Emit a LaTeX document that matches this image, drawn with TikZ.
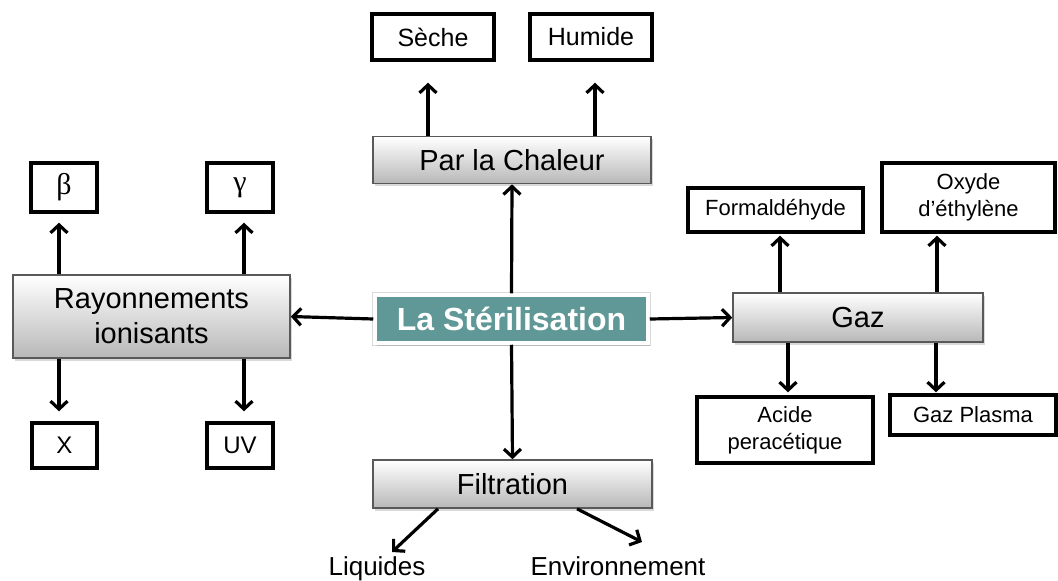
\documentclass[tikz,border=0pt]{standalone}
\usepackage{fontspec}
\setmainfont{Liberation Sans}
\newfontfamily\grk{Liberation Serif}
\usetikzlibrary{arrows.meta,shadows,calc}
\definecolor{tealbox}{RGB}{95,152,150}
\begin{document}
\begin{tikzpicture}[x=1pt,y=-1pt,
 main/.style={draw=black!65, line width=1.6pt, top color=white, bottom color=black!28,
   drop shadow={shadow xshift=1.5pt, shadow yshift=-2.5pt, opacity=0.3},
   inner sep=0pt, align=center, font=\fontsize{29}{35}\selectfont, text=black},
 leaf/.style={draw=black, line width=3.4pt, fill=white, inner sep=0pt, align=center,
   font=\fontsize{22}{27}\selectfont, text=black},
 arr/.style={line width=3.2pt, -{Straight Barb[length=8pt,width=17pt]}, black},
 plain/.style={inner sep=0pt, font=\fontsize{26}{30}\selectfont, text=black},
]
\useasboundingbox (0,0) rectangle (1058,581);

% central node
\node[draw=white, line width=3.5pt, fill=tealbox, text=white, inner sep=0pt,
  font=\bfseries\fontsize{32}{38}\selectfont, minimum width=273pt, minimum height=48pt,
  preaction={draw=black!15, fill=black!15, line width=6pt},
  drop shadow={shadow xshift=1.5pt, shadow yshift=-2.5pt, opacity=0.35}] (ster) at (511.5,319) {La Stérilisation};

% main boxes
\node[main, minimum width=278pt, minimum height=47pt] (chal) at (512,160) {Par la Chaleur};
\node[main, minimum width=277pt, minimum height=83pt] (ray) at (151.5,316.5) {Rayonnements\\ionisants};
\node[main, minimum width=250pt, minimum height=49pt] (gaz) at (858,317.5) {Gaz};
\node[main, minimum width=279pt, minimum height=48pt] (filt) at (512.5,484) {Filtration};

% leaves
\node[leaf, minimum width=122pt, minimum height=46pt, font=\fontsize{25}{30}\selectfont] (seche) at (433,37) {Sèche};
\node[leaf, minimum width=122pt, minimum height=46pt, font=\fontsize{25}{30}\selectfont] (hum) at (591,37) {Humide};
\node[leaf, minimum width=66pt, minimum height=49pt, font=\grk\fontsize{30}{30}\selectfont] (beta) at (64,187.5) {β};
\node[leaf, minimum width=66pt, minimum height=49pt, font=\grk\fontsize{30}{30}\selectfont] (gam) at (240,187.5) {γ};
\node[leaf, minimum width=65pt, minimum height=45pt, font=\fontsize{24}{28}\selectfont] (xr) at (64.5,445.5) {X};
\node[leaf, minimum width=66pt, minimum height=45pt, font=\fontsize{24}{28}\selectfont] (uv) at (240,445.5) {UV};
\node[leaf, minimum width=175pt, minimum height=44pt] (form) at (775.5,210) {Formaldéhyde};
\node[leaf, minimum width=173pt, minimum height=69pt] (oxy) at (968.5,197.5) {Oxyde\\d’éthylène};
\node[leaf, minimum width=176pt, minimum height=66pt] (acid) at (785,430) {Acide\\peracétique};
\node[leaf, minimum width=166pt, minimum height=40pt] (plas) at (973,415) {Gaz Plasma};
\node[plain, anchor=base] (liq) at (377,575) {Liquides};
\node[plain, anchor=base] (env) at (618,575) {Environnement};

% centre connectors
\draw[arr] (ster.north) -- (chal.south);
\draw[arr] (ster.south) -- (filt.north);
\draw[arr] (ster.west) -- (ray.east);
\draw[arr] (ster.east) -- (gaz.west);

% chaleur
\coordinate (c1) at ([xshift=-84pt]chal.north);
\coordinate (c2) at ([xshift=83pt]chal.north);
\draw[arr, shorten >=21pt] (c1) -- (c1 |- seche.south);
\draw[arr, shorten >=21pt] (c2) -- (c2 |- hum.south);

% rayonnements
\coordinate (r1) at ([xshift=-92.5pt]ray.north);
\coordinate (r2) at ([xshift=92.5pt]ray.north);
\coordinate (r3) at ([xshift=-92.5pt]ray.south);
\coordinate (r4) at ([xshift=92.5pt]ray.south);
\draw[arr, shorten >=9pt] (r1) -- (r1 |- beta.south);
\draw[arr, shorten >=9pt] (r2) -- (r2 |- gam.south);
\draw[arr, shorten >=10pt] (r3) -- (r3 |- xr.north);
\draw[arr, shorten >=10pt] (r4) -- (r4 |- uv.north);

% gaz
\coordinate (g1) at ([xshift=-78pt]gaz.north);
\coordinate (g2) at ([xshift=79pt]gaz.north);
\coordinate (g3) at ([xshift=-70pt]gaz.south);
\coordinate (g4) at ([xshift=78pt]gaz.south);
\draw[arr, shorten >=2pt] (g1) -- (g1 |- form.south);
\draw[arr, shorten >=2pt] (g2) -- (g2 |- oxy.south);
\draw[arr, shorten >=3pt] (g3) -- (g3 |- acid.north);
\draw[arr, shorten >=1pt] (g4) -- (g4 |- plas.north);

% filtration
\coordinate (lq) at (392,552);
\coordinate (ev) at (642,542);
\draw[arr] ([xshift=-74.5pt]filt.south) -- (lq);
\draw[arr] ([xshift=64.5pt]filt.south) -- (ev);
\end{tikzpicture}
\end{document}
